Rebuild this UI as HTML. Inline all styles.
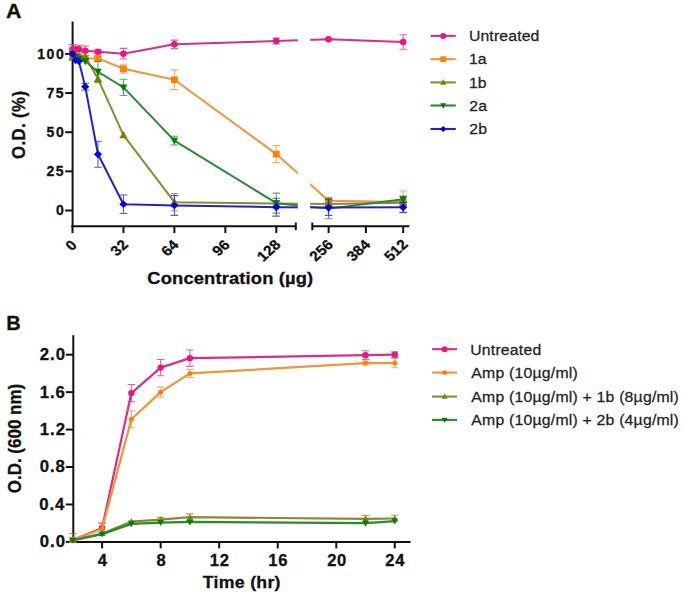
<!DOCTYPE html><html><head><meta charset="utf-8"><style>html,body{margin:0;padding:0;background:#fff;}body{width:685px;height:593px;overflow:hidden;}svg{display:block;}text{font-family:"Liberation Sans",sans-serif;}</style></head><body><svg width="685" height="593" viewBox="0 0 685 593" font-family="Liberation Sans, sans-serif">
<rect width="100%" height="100%" fill="#fff"/>
<defs><clipPath id="clipB"><rect x="0" y="300" width="685" height="243"/></clipPath><clipPath id="gapA"><path d="M0,0H297.8V240H0Z M310.2,0H685V240H310.2Z"/></clipPath></defs>
<g stroke="#111" stroke-width="2" fill="none">
<path d="M72.6,21.5V227"/>
<path d="M71.3,226.2H295.8 M295.8,222.5V230.3"/>
<path d="M312.3,222.5V230.3 M312.3,226.2H409.3"/>
<path d="M65.2,210.50H72"/>
<path d="M65.2,171.35H72"/>
<path d="M65.2,132.20H72"/>
<path d="M65.2,93.05H72"/>
<path d="M65.2,53.90H72"/>
<path d="M72.50,226V233"/>
<path d="M123.45,226V233"/>
<path d="M174.40,226V233"/>
<path d="M225.35,226V233"/>
<path d="M276.30,226V233"/>
<path d="M328.60,226V233"/>
<path d="M365.90,226V233"/>
<path d="M403.20,226V233"/>
</g>
<g clip-path="url(#gapA)">
<path d="M72.50,44.50V53.90M68.70,44.50H76.30M68.70,53.90H76.30" stroke="#d4308a" stroke-width="1.1" fill="none" opacity="0.75"/>
<path d="M78.87,45.29V53.12M75.07,45.29H82.67M75.07,53.12H82.67" stroke="#d4308a" stroke-width="1.1" fill="none" opacity="0.75"/>
<path d="M85.24,46.07V55.47M81.44,46.07H89.04M81.44,55.47H89.04" stroke="#d4308a" stroke-width="1.1" fill="none" opacity="0.75"/>
<path d="M97.97,49.83V53.59M94.17,49.83H101.77M94.17,53.59H101.77" stroke="#d4308a" stroke-width="1.1" fill="none" opacity="0.75"/>
<path d="M123.45,48.42V59.07M119.65,48.42H127.25M119.65,59.07H127.25" stroke="#d4308a" stroke-width="1.1" fill="none" opacity="0.75"/>
<path d="M174.40,40.12V48.58M170.60,40.12H178.20M170.60,48.58H178.20" stroke="#d4308a" stroke-width="1.1" fill="none" opacity="0.75"/>
<path d="M276.30,38.08V44.03M272.50,38.08H280.10M272.50,44.03H280.10" stroke="#d4308a" stroke-width="1.1" fill="none" opacity="0.75"/>
<path d="M328.60,38.71V39.96M324.80,38.71H332.40M324.80,39.96H332.40" stroke="#d4308a" stroke-width="1.1" fill="none" opacity="0.75"/>
<path d="M403.20,34.79V49.20M399.40,34.79H407.00M399.40,49.20H407.00" stroke="#d4308a" stroke-width="1.1" fill="none" opacity="0.75"/>
<polyline points="72.50,49.20 75.68,49.20 78.87,49.20 85.24,50.77 97.97,51.71 123.45,53.74 174.40,44.35 276.30,41.06 328.60,39.34 403.20,42.00" fill="none" stroke="#d4308a" stroke-width="2.0" stroke-linejoin="round"/>
<circle cx="72.50" cy="49.20" r="3.30" fill="#ec1383"/>
<circle cx="75.68" cy="49.20" r="3.30" fill="#ec1383"/>
<circle cx="78.87" cy="49.20" r="3.30" fill="#ec1383"/>
<circle cx="85.24" cy="50.77" r="3.30" fill="#ec1383"/>
<circle cx="97.97" cy="51.71" r="3.30" fill="#ec1383"/>
<circle cx="123.45" cy="53.74" r="3.30" fill="#ec1383"/>
<circle cx="174.40" cy="44.35" r="3.30" fill="#ec1383"/>
<circle cx="276.30" cy="41.06" r="3.30" fill="#ec1383"/>
<circle cx="328.60" cy="39.34" r="3.30" fill="#ec1383"/>
<circle cx="403.20" cy="42.00" r="3.30" fill="#ec1383"/>
<path d="M97.97,56.09V60.79M94.17,56.09H101.77M94.17,60.79H101.77" stroke="#f0953a" stroke-width="1.1" fill="none" opacity="0.75"/>
<path d="M123.45,64.24V73.32M119.65,64.24H127.25M119.65,73.32H127.25" stroke="#f0953a" stroke-width="1.1" fill="none" opacity="0.75"/>
<path d="M174.40,69.87V89.60M170.60,69.87H178.20M170.60,89.60H178.20" stroke="#f0953a" stroke-width="1.1" fill="none" opacity="0.75"/>
<path d="M276.30,145.67V162.58M272.50,145.67H280.10M272.50,162.58H280.10" stroke="#f0953a" stroke-width="1.1" fill="none" opacity="0.75"/>
<path d="M328.60,197.50V203.77M324.80,197.50H332.40M324.80,203.77H332.40" stroke="#f0953a" stroke-width="1.1" fill="none" opacity="0.75"/>
<path d="M403.20,190.93V212.85M399.40,190.93H407.00M399.40,212.85H407.00" stroke="#f0953a" stroke-width="1.1" fill="none" opacity="0.75"/>
<polyline points="72.50,53.90 75.68,55.47 78.87,57.03 85.24,58.60 97.97,58.44 123.45,68.78 174.40,79.74 276.30,154.12 328.60,200.63 403.20,201.89" fill="none" stroke="#f0953a" stroke-width="2.0" stroke-linejoin="round"/>
<rect x="69.10" y="50.50" width="6.80" height="6.80" fill="#ff8000"/>
<rect x="72.28" y="52.07" width="6.80" height="6.80" fill="#ff8000"/>
<rect x="75.47" y="53.63" width="6.80" height="6.80" fill="#ff8000"/>
<rect x="81.84" y="55.20" width="6.80" height="6.80" fill="#ff8000"/>
<rect x="94.57" y="55.04" width="6.80" height="6.80" fill="#ff8000"/>
<rect x="120.05" y="65.38" width="6.80" height="6.80" fill="#ff8000"/>
<rect x="171.00" y="76.34" width="6.80" height="6.80" fill="#ff8000"/>
<rect x="272.90" y="150.72" width="6.80" height="6.80" fill="#ff8000"/>
<rect x="325.20" y="197.23" width="6.80" height="6.80" fill="#ff8000"/>
<rect x="399.80" y="198.49" width="6.80" height="6.80" fill="#ff8000"/>
<path d="M72.50,53.90V60.16M68.70,53.90H76.30M68.70,60.16H76.30" stroke="#8a8a30" stroke-width="1.1" fill="none" opacity="0.75"/>
<path d="M97.97,74.88V82.71M94.17,74.88H101.77M94.17,82.71H101.77" stroke="#8a8a30" stroke-width="1.1" fill="none" opacity="0.75"/>
<path d="M174.40,193.59V210.81M170.60,193.59H178.20M170.60,210.81H178.20" stroke="#8a8a30" stroke-width="1.1" fill="none" opacity="0.75"/>
<path d="M276.30,200.48V206.74M272.50,200.48H280.10M272.50,206.74H280.10" stroke="#8a8a30" stroke-width="1.1" fill="none" opacity="0.75"/>
<path d="M328.60,202.36V205.49M324.80,202.36H332.40M324.80,205.49H332.40" stroke="#8a8a30" stroke-width="1.1" fill="none" opacity="0.75"/>
<path d="M403.20,201.10V204.24M399.40,201.10H407.00M399.40,204.24H407.00" stroke="#8a8a30" stroke-width="1.1" fill="none" opacity="0.75"/>
<polyline points="72.50,57.03 75.68,57.03 78.87,57.03 85.24,56.56 97.97,78.80 123.45,135.18 174.40,202.20 276.30,203.61 328.60,203.92 403.20,202.67" fill="none" stroke="#8a8a30" stroke-width="2.0" stroke-linejoin="round"/>
<path d="M72.50,52.62 L76.60,60.22 L68.40,60.22Z" fill="#808000"/>
<path d="M75.68,52.62 L79.79,60.22 L71.58,60.22Z" fill="#808000"/>
<path d="M78.87,52.62 L82.97,60.22 L74.76,60.22Z" fill="#808000"/>
<path d="M85.24,52.15 L89.34,59.75 L81.13,59.75Z" fill="#808000"/>
<path d="M97.97,74.39 L102.08,81.99 L93.87,81.99Z" fill="#808000"/>
<path d="M123.45,130.77 L127.55,138.37 L119.35,138.37Z" fill="#808000"/>
<path d="M174.40,197.79 L178.50,205.39 L170.30,205.39Z" fill="#808000"/>
<path d="M276.30,199.20 L280.40,206.80 L272.20,206.80Z" fill="#808000"/>
<path d="M328.60,199.51 L332.70,207.11 L324.50,207.11Z" fill="#808000"/>
<path d="M403.20,198.26 L407.30,205.86 L399.10,205.86Z" fill="#808000"/>
<path d="M97.97,61.57V81.93M94.17,61.57H101.77M94.17,81.93H101.77" stroke="#2a8a30" stroke-width="1.1" fill="none" opacity="0.75"/>
<path d="M123.45,79.27V95.56M119.65,79.27H127.25M119.65,95.56H127.25" stroke="#2a8a30" stroke-width="1.1" fill="none" opacity="0.75"/>
<path d="M174.40,136.27V145.04M170.60,136.27H178.20M170.60,145.04H178.20" stroke="#2a8a30" stroke-width="1.1" fill="none" opacity="0.75"/>
<path d="M276.30,193.12V213.16M272.50,193.12H280.10M272.50,213.16H280.10" stroke="#2a8a30" stroke-width="1.1" fill="none" opacity="0.75"/>
<path d="M328.60,198.44V218.80M324.80,198.44H332.40M324.80,218.80H332.40" stroke="#2a8a30" stroke-width="1.1" fill="none" opacity="0.75"/>
<path d="M403.20,196.09V202.36M399.40,196.09H407.00M399.40,202.36H407.00" stroke="#2a8a30" stroke-width="1.1" fill="none" opacity="0.75"/>
<polyline points="72.50,53.90 75.68,57.03 78.87,58.60 85.24,61.26 97.97,71.75 123.45,87.41 174.40,140.66 276.30,203.14 328.60,208.62 403.20,199.22" fill="none" stroke="#2a8a30" stroke-width="2.0" stroke-linejoin="round"/>
<path d="M72.50,57.96 L76.28,50.96 L68.72,50.96Z" fill="#008000"/>
<path d="M75.68,61.09 L79.46,54.09 L71.90,54.09Z" fill="#008000"/>
<path d="M78.87,62.66 L82.65,55.66 L75.09,55.66Z" fill="#008000"/>
<path d="M85.24,65.32 L89.02,58.32 L81.46,58.32Z" fill="#008000"/>
<path d="M97.97,75.81 L101.75,68.81 L94.19,68.81Z" fill="#008000"/>
<path d="M123.45,91.47 L127.23,84.47 L119.67,84.47Z" fill="#008000"/>
<path d="M174.40,144.72 L178.18,137.72 L170.62,137.72Z" fill="#008000"/>
<path d="M276.30,207.20 L280.08,200.20 L272.52,200.20Z" fill="#008000"/>
<path d="M328.60,212.68 L332.38,205.68 L324.82,205.68Z" fill="#008000"/>
<path d="M403.20,203.28 L406.98,196.28 L399.42,196.28Z" fill="#008000"/>
<path d="M85.24,83.18V90.07M81.44,83.18H89.04M81.44,90.07H89.04" stroke="#2222c8" stroke-width="1.1" fill="none" opacity="0.75"/>
<path d="M97.97,141.28V167.28M94.17,141.28H101.77M94.17,167.28H101.77" stroke="#2222c8" stroke-width="1.1" fill="none" opacity="0.75"/>
<path d="M123.45,195.00V213.48M119.65,195.00H127.25M119.65,213.48H127.25" stroke="#2222c8" stroke-width="1.1" fill="none" opacity="0.75"/>
<path d="M174.40,195.62V215.35M170.60,195.62H178.20M170.60,215.35H178.20" stroke="#2222c8" stroke-width="1.1" fill="none" opacity="0.75"/>
<path d="M276.30,198.29V216.14M272.50,198.29H280.10M272.50,216.14H280.10" stroke="#2222c8" stroke-width="1.1" fill="none" opacity="0.75"/>
<path d="M328.60,199.69V215.35M324.80,199.69H332.40M324.80,215.35H332.40" stroke="#2222c8" stroke-width="1.1" fill="none" opacity="0.75"/>
<path d="M403.20,202.36V212.38M399.40,202.36H407.00M399.40,212.38H407.00" stroke="#2222c8" stroke-width="1.1" fill="none" opacity="0.75"/>
<polyline points="72.50,53.90 75.68,60.16 78.87,61.26 85.24,86.63 97.97,154.28 123.45,204.24 174.40,205.49 276.30,207.21 328.60,207.52 403.20,207.37" fill="none" stroke="#2222c8" stroke-width="2.0" stroke-linejoin="round"/>
<path d="M72.50,50.05 L76.64,53.90 L72.50,57.75 L68.36,53.90Z" fill="#0000f0"/>
<path d="M75.68,56.32 L79.83,60.16 L75.68,64.01 L71.54,60.16Z" fill="#0000f0"/>
<path d="M78.87,57.41 L83.01,61.26 L78.87,65.11 L74.72,61.26Z" fill="#0000f0"/>
<path d="M85.24,82.78 L89.38,86.63 L85.24,90.48 L81.09,86.63Z" fill="#0000f0"/>
<path d="M97.97,150.43 L102.12,154.28 L97.97,158.13 L93.83,154.28Z" fill="#0000f0"/>
<path d="M123.45,200.39 L127.59,204.24 L123.45,208.08 L119.31,204.24Z" fill="#0000f0"/>
<path d="M174.40,201.64 L178.54,205.49 L174.40,209.34 L170.26,205.49Z" fill="#0000f0"/>
<path d="M276.30,203.36 L280.44,207.21 L276.30,211.06 L272.16,207.21Z" fill="#0000f0"/>
<path d="M328.60,203.68 L332.74,207.52 L328.60,211.37 L324.46,207.52Z" fill="#0000f0"/>
<path d="M403.20,203.52 L407.34,207.37 L403.20,211.22 L399.06,207.37Z" fill="#0000f0"/>
</g>
<text transform="translate(55.89,215.32) scale(1.0000,1)" font-size="14" font-weight="bold" fill="#111" stroke="#111" stroke-width="0.3" letter-spacing="1.500">0</text>
<text transform="translate(46.42,176.17) scale(1.0000,1)" font-size="14" font-weight="bold" fill="#111" stroke="#111" stroke-width="0.3" letter-spacing="1.500">25</text>
<text transform="translate(46.60,137.02) scale(1.0000,1)" font-size="14" font-weight="bold" fill="#111" stroke="#111" stroke-width="0.3" letter-spacing="1.500">50</text>
<text transform="translate(46.42,97.87) scale(1.0000,1)" font-size="14" font-weight="bold" fill="#111" stroke="#111" stroke-width="0.3" letter-spacing="1.500">75</text>
<text transform="translate(37.32,58.72) scale(1.0000,1)" font-size="14" font-weight="bold" fill="#111" stroke="#111" stroke-width="0.3" letter-spacing="1.500">100</text>
<text transform="translate(71.10,245.30) scale(1.1000,1) rotate(-45) translate(-3.88,4.82)" font-size="14.0" font-weight="bold" fill="#111" stroke="#111" stroke-width="0.3" letter-spacing="0.100">0</text>
<text transform="translate(119.05,247.80) scale(1.1000,1) rotate(-45) translate(-7.72,4.81)" font-size="14.0" font-weight="bold" fill="#111" stroke="#111" stroke-width="0.3" letter-spacing="0.100">32</text>
<text transform="translate(170.00,247.80) scale(1.1000,1) rotate(-45) translate(-8.05,4.82)" font-size="14.0" font-weight="bold" fill="#111" stroke="#111" stroke-width="0.3" letter-spacing="0.100">64</text>
<text transform="translate(220.95,247.80) scale(1.1000,1) rotate(-45) translate(-7.83,4.82)" font-size="14.0" font-weight="bold" fill="#111" stroke="#111" stroke-width="0.3" letter-spacing="0.100">96</text>
<text transform="translate(268.90,250.30) scale(1.1000,1) rotate(-45) translate(-12.00,4.82)" font-size="14.0" font-weight="bold" fill="#111" stroke="#111" stroke-width="0.3" letter-spacing="0.100">128</text>
<text transform="translate(321.20,250.30) scale(1.1000,1) rotate(-45) translate(-11.77,4.82)" font-size="14.0" font-weight="bold" fill="#111" stroke="#111" stroke-width="0.3" letter-spacing="0.100">256</text>
<text transform="translate(358.50,250.30) scale(1.1000,1) rotate(-45) translate(-11.90,4.81)" font-size="14.0" font-weight="bold" fill="#111" stroke="#111" stroke-width="0.3" letter-spacing="0.100">384</text>
<text transform="translate(395.80,250.30) scale(1.1000,1) rotate(-45) translate(-11.71,4.82)" font-size="14.0" font-weight="bold" fill="#111" stroke="#111" stroke-width="0.3" letter-spacing="0.100">512</text>
<text transform="translate(5.97,17.60) scale(1.0700,1)" font-size="20" font-weight="bold" fill="#111" stroke="#111" stroke-width="0.3">A</text>
<text transform="translate(147.35,284.00) scale(1.0800,1)" font-size="17.0" font-weight="bold" fill="#111" stroke="#111" stroke-width="0.3" letter-spacing="0.125">Concentration (µg)</text>
<text transform="translate(20.85,125.05) scale(1.0700,1) rotate(-90) translate(-33.99,4.34)" font-size="16.8" font-weight="bold" fill="#111" stroke="#111" stroke-width="0.3" letter-spacing="0.400">O.D. (%)</text>
<path d="M430.5,35.90H455.8" stroke="#d4308a" stroke-width="2.1"/>
<circle cx="443.20" cy="35.90" r="3.00" fill="#ec1383"/>
<text transform="translate(468.88,41.10) scale(1.0600,1)" font-size="14.9" font-weight="normal" fill="#222" stroke="#222" stroke-width="0.25" letter-spacing="0.140">Untreated</text>
<path d="M430.5,59.20H455.8" stroke="#f0953a" stroke-width="2.1"/>
<rect x="440.30" y="56.30" width="5.80" height="5.80" fill="#ff8000"/>
<text transform="translate(468.90,64.40) scale(1.0600,1)" font-size="14.9" font-weight="normal" fill="#222" stroke="#222" stroke-width="0.25" letter-spacing="0.140">1a</text>
<path d="M430.5,82.40H455.8" stroke="#8a8a30" stroke-width="2.1"/>
<path d="M443.20,79.04 L446.33,84.84 L440.07,84.84Z" fill="#808000"/>
<text transform="translate(468.90,87.60) scale(1.0600,1)" font-size="14.9" font-weight="normal" fill="#222" stroke="#222" stroke-width="0.25" letter-spacing="0.140">1b</text>
<path d="M430.5,105.50H455.8" stroke="#2a8a30" stroke-width="2.1"/>
<path d="M443.20,108.63 L446.12,103.23 L440.28,103.23Z" fill="#008000"/>
<text transform="translate(469.31,110.70) scale(1.0600,1)" font-size="14.9" font-weight="normal" fill="#222" stroke="#222" stroke-width="0.25" letter-spacing="0.140">2a</text>
<path d="M430.5,129.00H455.8" stroke="#2222c8" stroke-width="2.1"/>
<path d="M443.20,125.98 L446.45,129.00 L443.20,132.02 L439.95,129.00Z" fill="#0000f0"/>
<text transform="translate(469.31,134.20) scale(1.0600,1)" font-size="14.9" font-weight="normal" fill="#222" stroke="#222" stroke-width="0.25" letter-spacing="0.140">2b</text>
<g stroke="#111" stroke-width="2" fill="none">
<path d="M73.3,335.2V542.9"/>
<path d="M72.3,542H410.5"/>
<path d="M65.8,541.90H73"/>
<path d="M65.8,504.46H73"/>
<path d="M65.8,467.02H73"/>
<path d="M65.8,429.58H73"/>
<path d="M65.8,392.14H73"/>
<path d="M65.8,354.70H73"/>
<path d="M102.10,542V548.4"/>
<path d="M160.64,542V548.4"/>
<path d="M219.18,542V548.4"/>
<path d="M277.72,542V548.4"/>
<path d="M336.26,542V548.4"/>
<path d="M394.80,542V548.4"/>
</g>
<g clip-path="url(#clipB)">
<path d="M72.83,538.16V541.90M69.03,538.16H76.63M69.03,541.90H76.63" stroke="#d4308a" stroke-width="1.1" fill="none" opacity="0.75"/>
<path d="M102.10,523.37V532.73M98.30,523.37H105.90M98.30,532.73H105.90" stroke="#d4308a" stroke-width="1.1" fill="none" opacity="0.75"/>
<path d="M131.37,384.46V401.69M127.57,384.46H135.17M127.57,401.69H135.17" stroke="#d4308a" stroke-width="1.1" fill="none" opacity="0.75"/>
<path d="M160.64,359.47V375.76M156.84,359.47H164.44M156.84,375.76H164.44" stroke="#d4308a" stroke-width="1.1" fill="none" opacity="0.75"/>
<path d="M189.91,349.93V366.40M186.11,349.93H193.71M186.11,366.40H193.71" stroke="#d4308a" stroke-width="1.1" fill="none" opacity="0.75"/>
<path d="M365.53,350.77V359.57M361.73,350.77H369.33M361.73,359.57H369.33" stroke="#d4308a" stroke-width="1.1" fill="none" opacity="0.75"/>
<path d="M394.80,351.89V357.51M391.00,351.89H398.60M391.00,357.51H398.60" stroke="#d4308a" stroke-width="1.1" fill="none" opacity="0.75"/>
<polyline points="72.83,540.03 102.10,528.05 131.37,393.08 160.64,367.62 189.91,358.16 365.53,355.17 394.80,354.70" fill="none" stroke="#d4308a" stroke-width="2.2" stroke-linejoin="round"/>
<circle cx="72.83" cy="540.03" r="3.20" fill="#ec1383"/>
<circle cx="102.10" cy="528.05" r="3.20" fill="#ec1383"/>
<circle cx="131.37" cy="393.08" r="3.20" fill="#ec1383"/>
<circle cx="160.64" cy="367.62" r="3.20" fill="#ec1383"/>
<circle cx="189.91" cy="358.16" r="3.20" fill="#ec1383"/>
<circle cx="365.53" cy="355.17" r="3.20" fill="#ec1383"/>
<circle cx="394.80" cy="354.70" r="3.20" fill="#ec1383"/>
<path d="M72.83,537.22V542.84M69.03,537.22H76.63M69.03,542.84H76.63" stroke="#f0953a" stroke-width="1.1" fill="none" opacity="0.75"/>
<path d="M102.10,522.24V535.35M98.30,522.24H105.90M98.30,535.35H105.90" stroke="#f0953a" stroke-width="1.1" fill="none" opacity="0.75"/>
<path d="M131.37,410.86V427.71M127.57,410.86H135.17M127.57,427.71H135.17" stroke="#f0953a" stroke-width="1.1" fill="none" opacity="0.75"/>
<path d="M160.64,387.09V397.19M156.84,387.09H164.44M156.84,397.19H164.44" stroke="#f0953a" stroke-width="1.1" fill="none" opacity="0.75"/>
<path d="M189.91,369.40V377.44M186.11,369.40H193.71M186.11,377.44H193.71" stroke="#f0953a" stroke-width="1.1" fill="none" opacity="0.75"/>
<path d="M365.53,361.25V365.00M361.73,361.25H369.33M361.73,365.00H369.33" stroke="#f0953a" stroke-width="1.1" fill="none" opacity="0.75"/>
<path d="M394.80,358.44V367.80M391.00,358.44H398.60M391.00,367.80H398.60" stroke="#f0953a" stroke-width="1.1" fill="none" opacity="0.75"/>
<polyline points="72.83,540.03 102.10,528.80 131.37,419.28 160.64,392.14 189.91,373.42 365.53,363.12 394.80,363.12" fill="none" stroke="#f0953a" stroke-width="2.2" stroke-linejoin="round"/>
<circle cx="72.83" cy="540.03" r="2.50" fill="#ff8000"/>
<circle cx="102.10" cy="528.80" r="2.50" fill="#ff8000"/>
<circle cx="131.37" cy="419.28" r="2.50" fill="#ff8000"/>
<circle cx="160.64" cy="392.14" r="2.50" fill="#ff8000"/>
<circle cx="189.91" cy="373.42" r="2.50" fill="#ff8000"/>
<circle cx="365.53" cy="363.12" r="2.50" fill="#ff8000"/>
<circle cx="394.80" cy="363.12" r="2.50" fill="#ff8000"/>
<path d="M72.83,533.48V546.58M69.03,533.48H76.63M69.03,546.58H76.63" stroke="#8a8a30" stroke-width="1.1" fill="none" opacity="0.75"/>
<path d="M131.37,520.75V522.62M127.57,520.75H135.17M127.57,522.62H135.17" stroke="#8a8a30" stroke-width="1.1" fill="none" opacity="0.75"/>
<path d="M160.64,517.38V522.06M156.84,517.38H164.44M156.84,522.06H164.44" stroke="#8a8a30" stroke-width="1.1" fill="none" opacity="0.75"/>
<path d="M189.91,513.91V520.47M186.11,513.91H193.71M186.11,520.47H193.71" stroke="#8a8a30" stroke-width="1.1" fill="none" opacity="0.75"/>
<path d="M365.53,515.50V522.06M361.73,515.50H369.33M361.73,522.06H369.33" stroke="#8a8a30" stroke-width="1.1" fill="none" opacity="0.75"/>
<path d="M394.80,515.22V521.78M391.00,515.22H398.60M391.00,521.78H398.60" stroke="#8a8a30" stroke-width="1.1" fill="none" opacity="0.75"/>
<polyline points="72.83,540.03 102.10,533.48 131.37,521.68 160.64,519.72 189.91,517.19 365.53,518.78 394.80,518.50" fill="none" stroke="#8a8a30" stroke-width="2.2" stroke-linejoin="round"/>
<path d="M72.83,536.55 L76.07,542.55 L69.59,542.55Z" fill="#808000"/>
<path d="M102.10,530.00 L105.34,536.00 L98.86,536.00Z" fill="#808000"/>
<path d="M131.37,518.20 L134.61,524.20 L128.13,524.20Z" fill="#808000"/>
<path d="M160.64,516.24 L163.88,522.24 L157.40,522.24Z" fill="#808000"/>
<path d="M189.91,513.71 L193.15,519.71 L186.67,519.71Z" fill="#808000"/>
<path d="M365.53,515.30 L368.77,521.30 L362.29,521.30Z" fill="#808000"/>
<path d="M394.80,515.02 L398.04,521.02 L391.56,521.02Z" fill="#808000"/>
<polyline points="72.83,540.50 102.10,534.13 131.37,523.84 160.64,522.62 189.91,521.96 365.53,523.18 394.80,521.03" fill="none" stroke="#2a8a30" stroke-width="2.2" stroke-linejoin="round"/>
<path d="M72.83,543.98 L76.07,537.98 L69.59,537.98Z" fill="#008000"/>
<path d="M102.10,537.61 L105.34,531.61 L98.86,531.61Z" fill="#008000"/>
<path d="M131.37,527.32 L134.61,521.32 L128.13,521.32Z" fill="#008000"/>
<path d="M160.64,526.10 L163.88,520.10 L157.40,520.10Z" fill="#008000"/>
<path d="M189.91,525.44 L193.15,519.44 L186.67,519.44Z" fill="#008000"/>
<path d="M365.53,526.66 L368.77,520.66 L362.29,520.66Z" fill="#008000"/>
<path d="M394.80,524.51 L398.04,518.51 L391.56,518.51Z" fill="#008000"/>
</g>
<text transform="translate(39.80,547.34) scale(1.0600,1)" font-size="15.8" font-weight="bold" fill="#111" stroke="#111" stroke-width="0.3" letter-spacing="0.900">0.0</text>
<text transform="translate(39.20,509.90) scale(1.0600,1)" font-size="15.8" font-weight="bold" fill="#111" stroke="#111" stroke-width="0.3" letter-spacing="0.900">0.4</text>
<text transform="translate(39.63,472.46) scale(1.0600,1)" font-size="15.8" font-weight="bold" fill="#111" stroke="#111" stroke-width="0.3" letter-spacing="0.900">0.8</text>
<text transform="translate(39.78,435.02) scale(1.0600,1)" font-size="15.8" font-weight="bold" fill="#111" stroke="#111" stroke-width="0.3" letter-spacing="0.900">1.2</text>
<text transform="translate(39.72,397.58) scale(1.0600,1)" font-size="15.8" font-weight="bold" fill="#111" stroke="#111" stroke-width="0.3" letter-spacing="0.900">1.6</text>
<text transform="translate(39.80,360.14) scale(1.0600,1)" font-size="15.8" font-weight="bold" fill="#111" stroke="#111" stroke-width="0.3" letter-spacing="0.900">2.0</text>
<text transform="translate(97.80,565.90) scale(1.0000,1)" font-size="16.6" font-weight="bold" fill="#111" stroke="#111" stroke-width="0.3" letter-spacing="0.700">4</text>
<text transform="translate(156.42,565.90) scale(1.0000,1)" font-size="16.6" font-weight="bold" fill="#111" stroke="#111" stroke-width="0.3" letter-spacing="0.700">8</text>
<text transform="translate(209.81,565.90) scale(1.0000,1)" font-size="16.6" font-weight="bold" fill="#111" stroke="#111" stroke-width="0.3" letter-spacing="0.700">12</text>
<text transform="translate(268.31,565.90) scale(1.0000,1)" font-size="16.6" font-weight="bold" fill="#111" stroke="#111" stroke-width="0.3" letter-spacing="0.700">16</text>
<text transform="translate(327.13,565.90) scale(1.0000,1)" font-size="16.6" font-weight="bold" fill="#111" stroke="#111" stroke-width="0.3" letter-spacing="0.700">20</text>
<text transform="translate(385.37,565.90) scale(1.0000,1)" font-size="16.6" font-weight="bold" fill="#111" stroke="#111" stroke-width="0.3" letter-spacing="0.700">24</text>
<text transform="translate(6.26,330.20) scale(1.0000,1)" font-size="20" font-weight="bold" fill="#111" stroke="#111" stroke-width="0.3">B</text>
<text transform="translate(202.80,588.00) scale(1.0800,1)" font-size="16.4" font-weight="bold" fill="#111" stroke="#111" stroke-width="0.3" letter-spacing="0.268">Time (hr)</text>
<text transform="translate(15.95,438.60) scale(1.0800,1) rotate(-90) translate(-54.71,4.40)" font-size="17.0" font-weight="bold" fill="#111" stroke="#111" stroke-width="0.3">O.D. (600 nm)</text>
<path d="M432,349.20H457" stroke="#d4308a" stroke-width="2.1"/>
<circle cx="444.60" cy="349.20" r="3.00" fill="#ec1383"/>
<text transform="translate(470.18,354.50) scale(1.0600,1)" font-size="14.9" font-weight="normal" fill="#222" stroke="#222" stroke-width="0.25" letter-spacing="0.200">Untreated</text>
<path d="M432,372.60H457" stroke="#f0953a" stroke-width="2.1"/>
<circle cx="444.60" cy="372.60" r="2.40" fill="#ff8000"/>
<text transform="translate(471.37,377.90) scale(1.0600,1)" font-size="14.9" font-weight="normal" fill="#222" stroke="#222" stroke-width="0.25" letter-spacing="0.200">Amp (10µg/ml)</text>
<path d="M432,396.60H457" stroke="#8a8a30" stroke-width="2.1"/>
<path d="M444.60,393.47 L447.52,398.87 L441.68,398.87Z" fill="#808000"/>
<text transform="translate(471.37,401.90) scale(1.0600,1)" font-size="14.9" font-weight="normal" fill="#222" stroke="#222" stroke-width="0.25" letter-spacing="0.200">Amp (10µg/ml) + 1b (8µg/ml)</text>
<path d="M432,419.90H457" stroke="#2a8a30" stroke-width="2.1"/>
<path d="M444.60,423.03 L447.52,417.63 L441.68,417.63Z" fill="#008000"/>
<text transform="translate(471.37,425.20) scale(1.0600,1)" font-size="14.9" font-weight="normal" fill="#222" stroke="#222" stroke-width="0.25" letter-spacing="0.200">Amp (10µg/ml) + 2b (4µg/ml)</text>
</svg></body></html>
